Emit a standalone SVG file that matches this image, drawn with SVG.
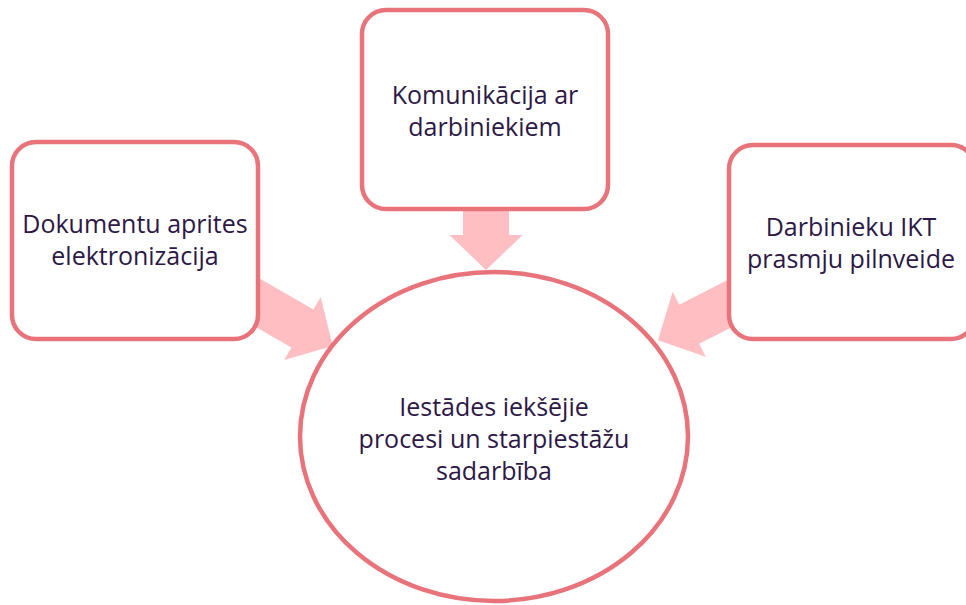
<svg xmlns="http://www.w3.org/2000/svg" width="966" height="605" viewBox="0 0 966 605">
<style>
.box{fill:#FFFFFF;stroke:#E8737B;stroke-width:4.5}
.arr{fill:#FFBEC1;stroke:none}
.t{font-family:"Open Sans","Noto Sans","Liberation Sans",sans-serif;font-size:25px;fill:#2D1846;text-anchor:middle}
</style>
<rect width="966" height="605" fill="#FFFFFF"/>
<g id="connectors">
<path class="arr" transform="translate(486,200) rotate(90)" d="M0,-23 H35 V-36.5 L70,0 L35,36.5 V23 H0 Z"/>
<path class="arr" transform="translate(234,289) rotate(30)" d="M0,-22 H79 V-36.5 L114,0 L79,36.5 V22 H0 Z"/>
<path class="arr" transform="translate(753.7,291.4) rotate(153)" d="M0,-22 H72.4 V-36.5 L107.4,0 L72.4,36.5 V22 H0 Z"/>
</g>
<g id="center">
<ellipse class="box" cx="494" cy="436.5" rx="194" ry="164.5"/>
<text class="t" x="494" y="416">Iestādes iekšējie</text>
<text class="t" x="494" y="448">procesi un starpiestāžu</text>
<text class="t" x="494" y="480">sadarbība</text>
</g>
<g id="left">
<rect class="box" x="12" y="142" width="246" height="197" rx="24"/>
<text class="t" x="135" y="233">Dokumentu aprites</text>
<text class="t" x="135" y="265">elektronizācija</text>
</g>
<g id="top">
<rect class="box" x="362" y="10" width="246" height="199" rx="24"/>
<text class="t" x="485" y="104">Komunikācija ar</text>
<text class="t" x="485" y="136">darbiniekiem</text>
</g>
<g id="right">
<rect class="box" x="729" y="145" width="246" height="194" rx="24"/>
<text class="t" x="851" y="236">Darbinieku IKT</text>
<text class="t" x="851" y="268">prasmju pilnveide</text>
</g>
</svg>
